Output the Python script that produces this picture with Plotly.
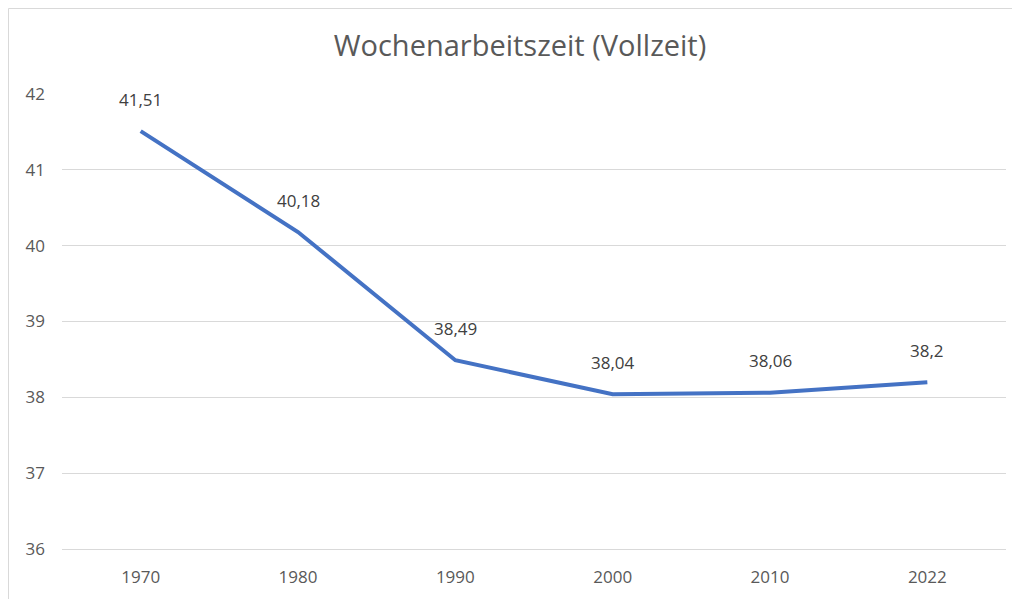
import plotly.graph_objects as go

years = ["1970", "1980", "1990", "2000", "2010", "2022"]
hours = [41.51, 40.18, 38.49, 38.04, 38.06, 38.2]
labels = ["41,51", "40,18", "38,49", "38,04", "38,06", "38,2"]
y_ticks = [36, 37, 38, 39, 40, 41, 42]

# page offset of the plotly div (body margin) is 8px
OFF = 8
W, H = 1020 - OFF, 599 - OFF
L, R, T, B = 62 - OFF, 14, 94 - OFF, 50
FONT = "Open Sans, Noto Sans, sans-serif"

fig = go.Figure()
fig.add_trace(go.Scatter(
    x=list(range(len(years))), y=hours, mode="lines",
    line=dict(color="#4472C4", width=4),
    hoverinfo="skip", showlegend=False,
))

for i, (v, t) in enumerate(zip(hours, labels)):
    fig.add_annotation(x=i, y=v, text=t, showarrow=False, yshift=32,
                       font=dict(family=FONT, size=17, color="#404040"))

pw = W - L - R
ph = H - T - B
fig.add_shape(type="rect", xref="paper", yref="paper",
              x0=(0.5 - L) / pw, x1=(W + 20 - L) / pw,
              y0=(H - B - (H + 20)) / ph, y1=(H - B - 0.5) / ph,
              line=dict(color="#D9D9D9", width=1), fillcolor="rgba(0,0,0,0)", layer="below")

fig.update_layout(
    width=W, height=H,
    margin=dict(l=L, r=R, t=T, b=B),
    paper_bgcolor="white", plot_bgcolor="white",
    title=dict(text="Wochenarbeitszeit (Vollzeit)", x=(520 - OFF) / W, xanchor="center",
               y=1 - (46 - OFF) / H, yanchor="middle",
               font=dict(family=FONT, size=29, color="#595959")),
    xaxis=dict(
        tickmode="array", tickvals=list(range(len(years))), ticktext=years,
        range=[-0.5, len(years) - 0.5], showgrid=False, zeroline=False,
        showline=True, linecolor="#D9D9D9", linewidth=1, ticks="", ticklabelstandoff=13,
        tickfont=dict(family=FONT, size=17, color="#595959"),
    ),
    yaxis=dict(
        range=[36, 42], tickvals=y_ticks, showgrid=True, gridcolor="#D9D9D9", gridwidth=1,
        zeroline=False, showline=False, ticks="", ticklabelstandoff=16,
        tickfont=dict(family=FONT, size=17, color="#595959"),
    ),
)

fig.write_html("out.html")
